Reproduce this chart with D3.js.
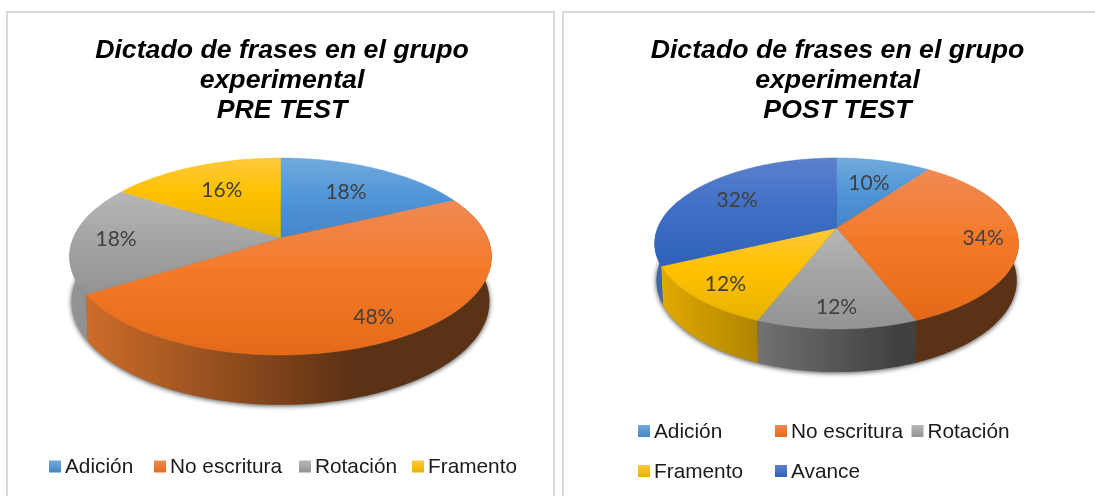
<!DOCTYPE html>
<html><head><meta charset="utf-8">
<script src="https://cdnjs.cloudflare.com/ajax/libs/d3/7.8.5/d3.min.js"></script>
<style>html,body{margin:0;padding:0;background:#fff;overflow:hidden}svg{display:block}</style>
</head><body>
<svg id="c" width="1095" height="496"></svg>
<script>
const categories = ["Adición","No escritura","Rotación","Framento","Avance"];
const preValues  = [18,48,18,16,0];
const postValues = [10,34,12,12,32];
const titleLines = ["Dictado de frases en el grupo","experimental"];
const preLabel = "PRE TEST";
const postLabel = "POST TEST";
const colorsLight = ["#72a9dd","#ef8a54","#b6b6b6","#ffca3c","#5c80cc"];
const colorsMid   = ["#5297d8","#f47a2b","#a5a5a5","#ffc000","#4070c6"];
const colorsDark  = ["#4485c8","#e46a18","#939393","#e6b300","#2f62ba"];
const sideBase    = ["#5b9bd5","#ed7d31","#a5a5a5","#ffc000","#4472c4"];

const svg = d3.select("#c");
const defs = svg.append("defs");
defs.append("filter").attr("id","shadow").attr("x","-10%").attr("y","-20%").attr("width","120%").attr("height","140%")
  .append("feGaussianBlur").attr("stdDeviation",2.6);
defs.append("filter").attr("id","soft").attr("filterUnits","userSpaceOnUse")
  .attr("x",0).attr("y",0).attr("width",1095).attr("height",496)
  .append("feGaussianBlur").attr("stdDeviation",.4);
const root = svg.append("g").attr("filter","url(#soft)");
root.append("rect").attr("width",1095).attr("height",496).attr("fill","#fff");

function drawPanel(p){
  const g = root.append("g");
  g.append("rect").attr("x",p.box[0]).attr("y",p.box[1]).attr("width",p.box[2]).attr("height",p.box[3])
    .attr("fill","#fff").attr("stroke","#d9d9d9").attr("stroke-width",2);
  g.append("g").selectAll("text").data([...titleLines,p.sub]).join("text")
    .attr("x",p.titleX).attr("y",(d,i)=>58+i*30).attr("text-anchor","middle")
    .attr("font-family","'Liberation Sans',Arial,sans-serif").attr("font-weight","bold").attr("font-style","italic")
    .attr("font-size",26.7).attr("fill","#000").text(d=>d);

  const pie = d3.pie().sort(null).value(d=>d.value);
  const arcs = pie(p.values.map((v,i)=>({value:v,i}))).filter(a=>a.data.value>0);

  // projective mapping of the disc: u right, v toward the viewer
  const top = (u,v)=>{const w=1+p.k*v; return [p.cx+p.c*u/w, p.ay+p.b*v/w];};
  const bot = (u,v)=>{const w=1+p.k*v; return [p.cx+p.bs*p.c*u/w, p.ay2+p.bsy*p.b*v/w];};
  const at = (proj,ang,r=1)=>proj(r*Math.sin(ang),-r*Math.cos(ang));
  const line = d3.line();
  const steps = (a0,a1)=>d3.range(0,1.0001,1/Math.max(2,Math.ceil((a1-a0)*60))).map(t=>a0+(a1-a0)*t);

  // shadow
  const full = steps(0,2*Math.PI);
  g.append("path").attr("d",line(full.map(a=>at(bot,a)))+"Z").attr("transform","translate(0,1)")
    .attr("fill","#000").attr("opacity",.7).attr("filter","url(#shadow)");

  // side wall
  const vis0 = 70*Math.PI/180, vis1 = 290*Math.PI/180;
  const frac = d3.scaleLinear().domain([0,.68,1]).range([.9,.38,.38]);
  arcs.forEach(a=>{
    const s0=Math.max(a.startAngle,vis0), s1=Math.min(a.endAngle,vis1);
    if(s1<=s0) return;
    const id=`side-${p.id}-${a.data.i}`, base=d3.rgb(sideBase[a.data.i]);
    const gr=defs.append("linearGradient").attr("id",id).attr("gradientUnits","userSpaceOnUse")
      .attr("x1",p.cx-p.rx).attr("x2",p.cx+p.rx).attr("y1",0).attr("y2",0);
    [0,.68,1].forEach(o=>{const f=frac(o);
      gr.append("stop").attr("offset",o).attr("stop-color",d3.rgb(base.r*f,base.g*f,base.b*f).formatHex());});
    const as=steps(s0,s1);
    const pts=[...as.map(x=>at(top,x)),...as.slice().reverse().map(x=>at(bot,x))];
    g.append("path").attr("d",line(pts)+"Z").attr("fill",`url(#${id})`);
  });

  // top faces
  arcs.forEach(a=>{
    const id=`top-${p.id}-${a.data.i}`;
    const gr=defs.append("linearGradient").attr("id",id).attr("x1",0).attr("x2",0).attr("y1",0).attr("y2",1);
    gr.append("stop").attr("offset",0).attr("stop-color",colorsLight[a.data.i]);
    gr.append("stop").attr("offset",.45).attr("stop-color",colorsMid[a.data.i]);
    gr.append("stop").attr("offset",1).attr("stop-color",colorsDark[a.data.i]);
    const pts=[at(top,0,0),...steps(a.startAngle,a.endAngle).map(x=>at(top,x))];
    g.append("path").attr("d",line(pts)+"Z").attr("fill",`url(#${id})`)
      .attr("stroke",colorsMid[a.data.i]).attr("stroke-width",.4);
  });

  // data labels
  const rScale=d3.scaleLinear().domain([-.1,.85]).range([.81,.65]).clamp(true);
  const fmt=d3.format(".0f");
  arcs.forEach(a=>{
    const m=(a.startAngle+a.endAngle)/2, q=at(top,m,rScale(Math.cos(m)));
    g.append("text").attr("x",q[0]).attr("y",q[1]+8).attr("text-anchor","middle")
      .attr("font-family","Lato,sans-serif").attr("font-size",21).attr("fill","#404040").text(fmt(a.data.value)+"%");
  });

  // legend
  p.legend.forEach((row,ri)=>row.forEach(([i,x])=>{
    const id=`leg-${p.id}-${i}`;
    const gr=defs.append("linearGradient").attr("id",id).attr("x1",0).attr("x2",0).attr("y1",0).attr("y2",1);
    gr.append("stop").attr("offset",0).attr("stop-color",colorsLight[i]);
    gr.append("stop").attr("offset",1).attr("stop-color",colorsDark[i]);
    const y=p.legendY[ri];
    g.append("rect").attr("x",x).attr("y",y-12.5).attr("width",12).attr("height",12).attr("fill",`url(#${id})`);
    g.append("text").attr("x",x+16).attr("y",y).attr("font-family","'Liberation Sans',Arial,sans-serif")
      .attr("font-size",20.8).attr("fill","#1a1a1a").text(categories[i]);
  }));
}

drawPanel({id:"pre",box:[7,12,547,500],titleX:282,sub:preLabel,values:preValues,
  cx:280.5,ay:238,k:-.188,b:95,c:207.3,rx:211,bs:.99,bsy:1.05,ay2:282,
  legendY:[473],legend:[[[0,49],[1,154],[2,299],[3,412]]]});
drawPanel({id:"post",box:[563,12,550,500],titleX:837.5,sub:postLabel,values:postValues,
  cx:836.6,ay:228,k:-.181,b:82.7,c:179,rx:182,bs:.99,bsy:1.07,ay2:264,
  legendY:[437.5,477.5],legend:[[[0,638],[1,775],[2,911.5]],[[3,638],[4,775]]]});
</script>
</body></html>
